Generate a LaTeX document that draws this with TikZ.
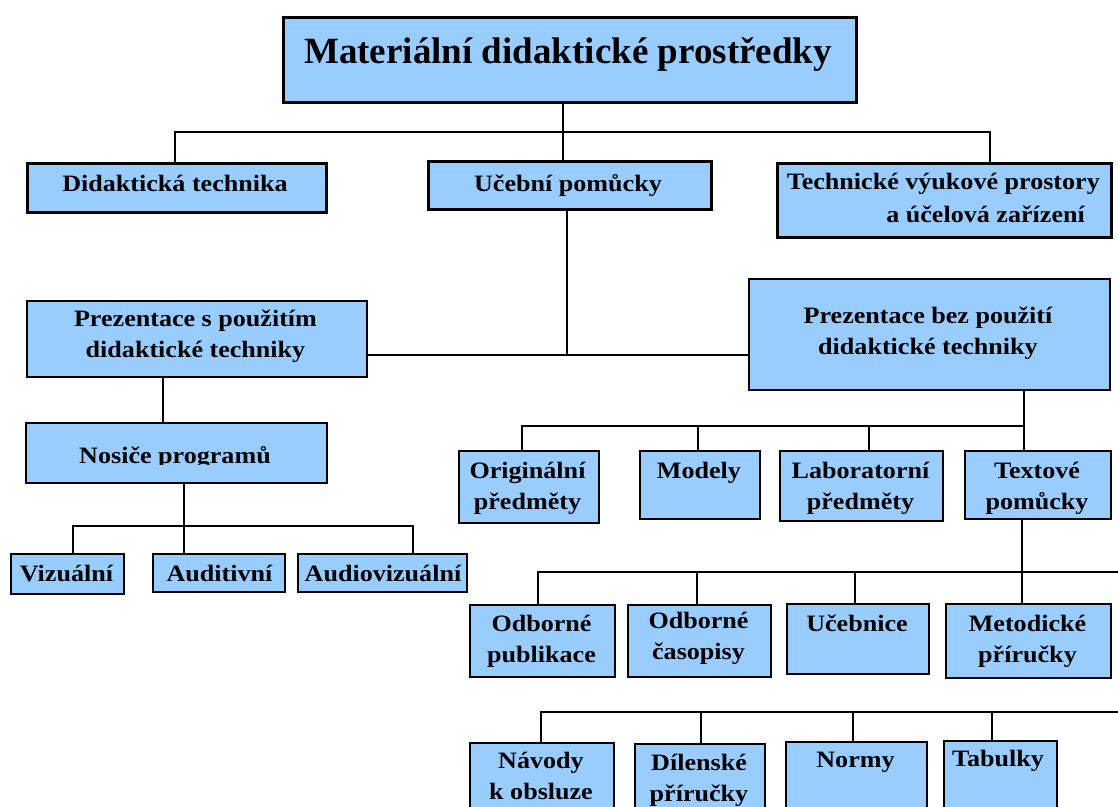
\documentclass[tikz,border=0pt]{standalone}
\usepackage{fontspec}
\newfontfamily\bodyfont{Liberation Serif}[FakeStretch=1.11]
\newfontfamily\titlefont{Liberation Serif}
\definecolor{boxblue}{RGB}{153,204,255}
\newcommand\boxnode[6]{\node[#6, anchor=north west, minimum width={(#4-#2)*1pt}, minimum height={(#5-#3)*1pt}] (#1) at (#2,#3) {};}
\begin{document}
\begin{tikzpicture}[x=1pt,y=-1pt,
  bx/.style={draw=black, fill=boxblue, line width=1.8pt, inner sep=0pt},
  bxthick/.style={bx, line width=3pt},
  txt/.style={inner sep=0pt, align=center, font=\bodyfont\bfseries\fontsize{23.5}{31}\selectfont},
  conn/.style={draw=black, line width=1.8pt},
]
\useasboundingbox[fill=white] (0,0) rectangle (1118,806);
\clip (0,0) rectangle (1118,806);

% boxes
\boxnode{top}{282}{16}{855}{101}{bxthick}
\boxnode{didak}{26}{162}{325}{211}{bxthick}
\boxnode{ucebni}{427}{160}{710}{208}{bxthick}
\boxnode{techn}{776}{162}{1110}{236}{bxthick}
\boxnode{prezs}{26}{300}{366}{376}{bx}
\boxnode{prezb}{748}{278}{1109}{389}{bx}
\boxnode{nosice}{25}{422}{326}{482}{bx}
\boxnode{viz}{10}{553}{123}{593}{bx}
\boxnode{aud}{152}{553}{284}{591}{bx}
\boxnode{audv}{297}{553}{466}{591}{bx}
\boxnode{orig}{458}{450}{598}{522}{bx}
\boxnode{modely}{639}{450}{759}{518}{bx}
\boxnode{lab}{779}{450}{942}{520}{bx}
\boxnode{textp}{964}{450}{1110}{518}{bx}
\boxnode{odpub}{469}{604}{614}{676}{bx}
\boxnode{odcas}{627}{604}{770}{676}{bx}
\boxnode{uceb}{786}{603}{928}{673}{bx}
\boxnode{metod}{945}{603}{1110}{677}{bx}
\boxnode{navod}{469}{742}{613}{815}{bx}
\boxnode{dilen}{634}{743}{764}{815}{bx}
\boxnode{normy}{785}{741}{926}{815}{bx}
\boxnode{tab}{943}{740}{1056}{815}{bx}

% connectors
\coordinate (b1l) at (175,132); \coordinate (b1c) at (563,132); \coordinate (b1r) at (990,132);
\draw[conn] (b1c |- top.south) -- (b1c |- ucebni.north);
\draw[conn] (b1l |- didak.north) -- (b1l) -- (b1r) -- (b1r |- techn.north);

\coordinate (b2) at (567,355);
\draw[conn] (b2 |- ucebni.south) -- (b2);
\draw[conn] (prezs.east |- b2) -- (prezb.west |- b2);

\coordinate (b3) at (163,400);
\draw[conn] (b3 |- prezs.south) -- (b3 |- nosice.north);

\coordinate (b4l) at (73,526); \coordinate (b4c) at (184,526); \coordinate (b4r) at (413,526);
\draw[conn] (b4c |- nosice.south) -- (b4c |- aud.north);
\draw[conn] (b4l |- viz.north) -- (b4l) -- (b4r) -- (b4r |- audv.north);

\coordinate (b5l) at (522,426); \coordinate (b5a) at (698,426); \coordinate (b5b) at (869,426); \coordinate (b5r) at (1024,426);
\draw[conn] (b5r |- prezb.south) -- (b5r |- textp.north);
\draw[conn] (b5l |- orig.north) -- (b5l) -- (b5r);
\draw[conn] (b5a) -- (b5a |- modely.north);
\draw[conn] (b5b) -- (b5b |- lab.north);

\coordinate (b6l) at (538,572); \coordinate (b6a) at (697,572); \coordinate (b6b) at (855,572); \coordinate (b6c) at (1022,572); \coordinate (b6r) at (1125,572);
\draw[conn] (b6c |- textp.south) -- (b6c |- metod.north);
\draw[conn] (b6l |- odpub.north) -- (b6l) -- (b6r);
\draw[conn] (b6a) -- (b6a |- odcas.north);
\draw[conn] (b6b) -- (b6b |- uceb.north);

\coordinate (b7l) at (541,712); \coordinate (b7a) at (701,712); \coordinate (b7b) at (853,712); \coordinate (b7c) at (992,712); \coordinate (b7r) at (1125,712);
\draw[conn] (b7l |- navod.north) -- (b7l) -- (b7r);
\draw[conn] (b7a) -- (b7a |- dilen.north);
\draw[conn] (b7b) -- (b7b |- normy.north);
\draw[conn] (b7c) -- (b7c |- tab.north);

% texts (anchor=base refers to the last line)
\node[txt, font=\titlefont\bfseries\fontsize{37}{40}\selectfont, anchor=base] (topT) at (568,63) {Materiální didaktické prostředky};
\node[txt, anchor=base] (didakT) at (175,191) {Didaktická technika};
\node[txt, anchor=base] (ucebniT) at (568,191) {Učební pomůcky};
\node[txt, font=\bodyfont\bfseries\fontsize{23.5}{33}\selectfont, align=right, anchor=base east] (technT) at (1100,222.5) {Technické výukové prostory\\a účelová zařízení\hspace*{15pt}};
\node[txt, anchor=base] (prezsT) at (195.5,357) {Prezentace s použitím\\didaktické techniky};
\node[txt, anchor=base] (prezbT) at (928,354) {Prezentace bez použití\\didaktické techniky};
\begin{scope}
\clip (20,420) rectangle (330,464);
\node[txt, anchor=base] (nosiceT) at (175,463) {Nosiče programů};
\end{scope}
\node[txt, anchor=base] (vizT) at (66.5,581) {Vizuální};
\node[txt, anchor=base] (audT) at (219.5,581) {Auditivní};
\node[txt, anchor=base] (audvT) at (383,581) {Audiovizuální};
\node[txt, anchor=base] (origT) at (527.5,509) {Originální\\předměty};
\node[txt, anchor=base] (modelyT) at (699,478) {Modely};
\node[txt, anchor=base] (labT) at (860.5,509) {Laboratorní\\předměty};
\node[txt, anchor=base] (textpT) at (1037,509) {Textové\\pomůcky};
\node[txt, anchor=base] (odpubT) at (541.5,662) {Odborné\\publikace};
\node[txt, anchor=base] (odcasT) at (698.5,659) {Odborné\\časopisy};
\node[txt, anchor=base] (ucebT) at (857,631) {Učebnice};
\node[txt, anchor=base] (metodT) at (1027.5,662) {Metodické\\příručky};
\node[txt, anchor=base] (navodT) at (541,799) {Návody\\k obsluze};
\node[txt, anchor=base] (dilenT) at (699,801) {Dílenské\\příručky};
\node[txt, anchor=base] (normyT) at (855.5,767) {Normy};
\node[txt, anchor=base] (tabT) at (998,766) {Tabulky};
\end{tikzpicture}
\end{document}
